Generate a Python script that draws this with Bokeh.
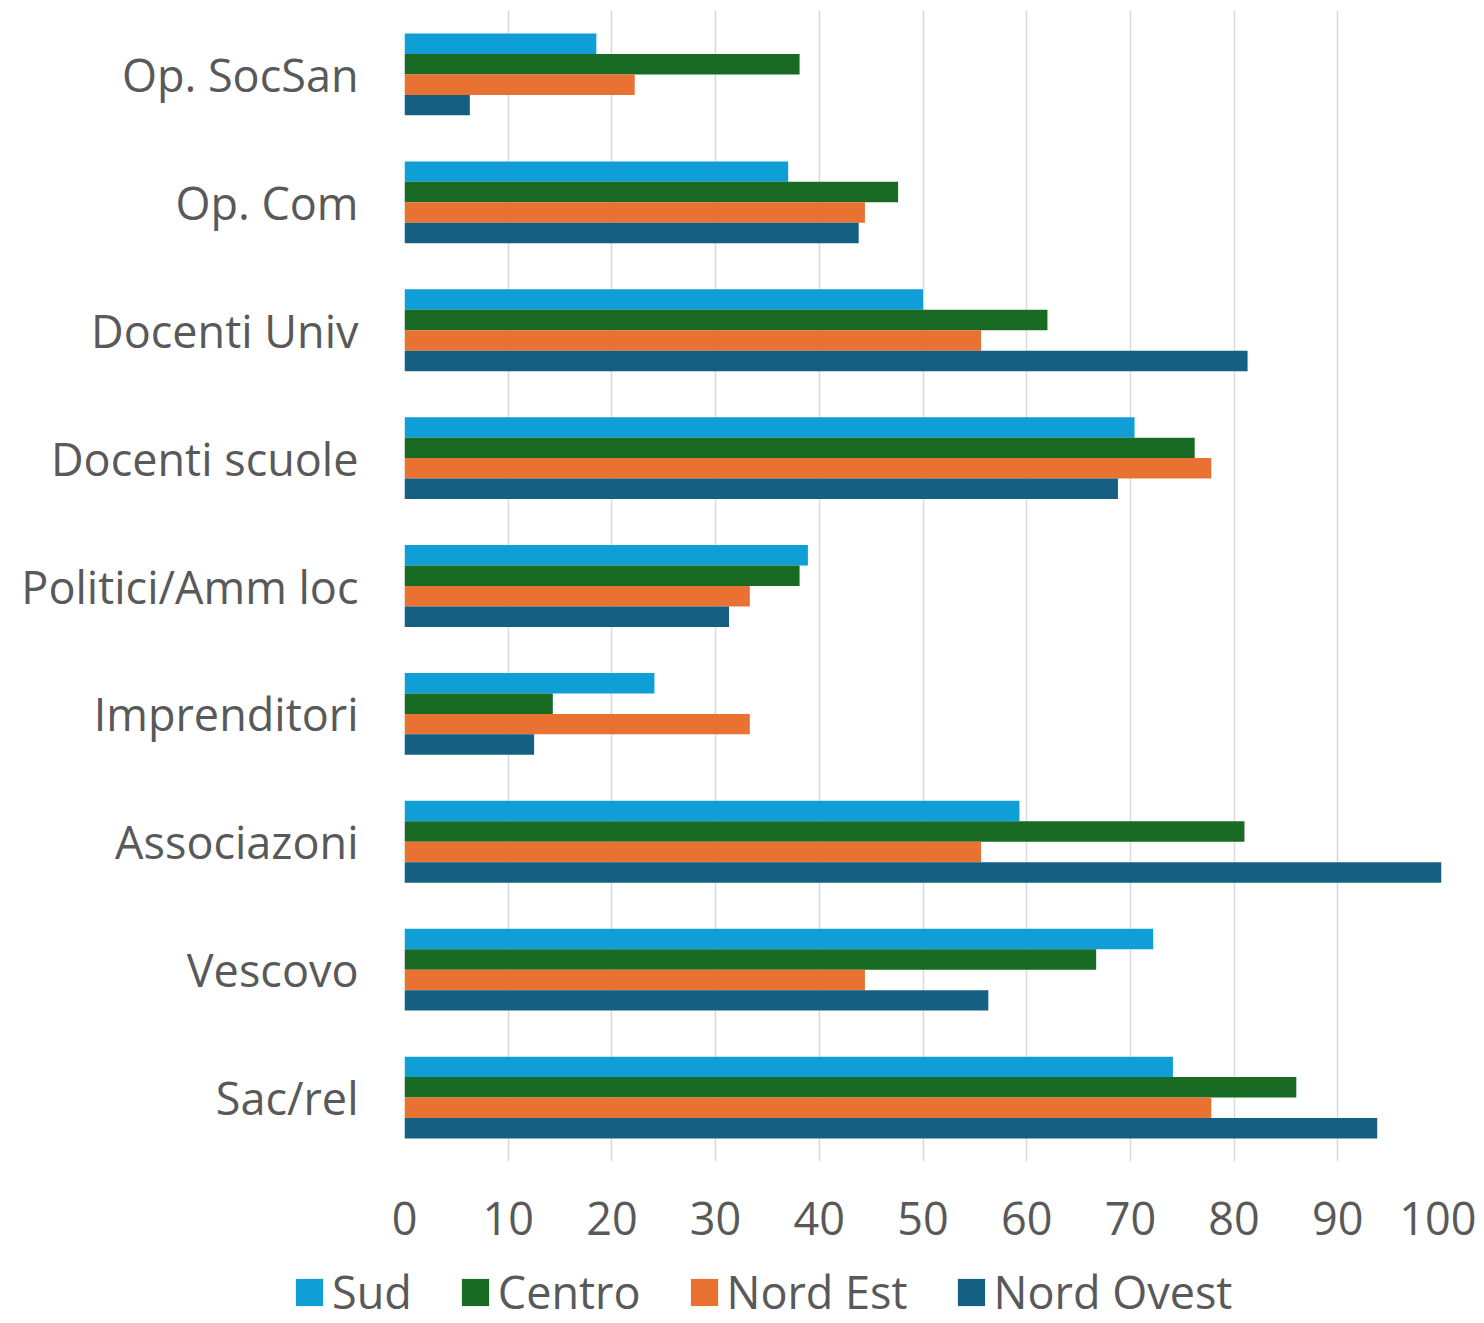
from bokeh.plotting import figure
from bokeh.layouts import column
from bokeh.models import ColumnDataSource, FactorRange, Range1d, Legend, LegendItem, FixedTicker
from bokeh.transform import dodge
from bokeh.embed import file_html
from bokeh.resources import INLINE

categories = ["Op. SocSan", "Op. Com", "Docenti Univ", "Docenti scuole", "Politici/Amm loc",
              "Imprenditori", "Associazoni", "Vescovo", "Sac/rel"]
series_names = ["Sud", "Centro", "Nord Est", "Nord Ovest"]
sud = [18.5, 37.0, 50.0, 70.4, 38.9, 24.1, 59.3, 72.2, 74.1]
centro = [38.1, 47.6, 62.0, 76.2, 38.1, 14.3, 81.0, 66.7, 86.0]
nord_est = [22.2, 44.4, 55.6, 77.8, 33.3, 33.3, 55.6, 44.4, 77.8]
nord_ovest = [6.3, 43.8, 81.3, 68.8, 31.3, 12.5, 100.0, 56.3, 93.8]
x_ticks = [0, 10, 20, 30, 40, 50, 60, 70, 80, 90, 100]

colors = ["#0F9ED5", "#196B24", "#E97132", "#156082"]
offsets = [0.24, 0.08, -0.08, -0.24]
FONT = "Open Sans"
FS = "45px"
TXT = "#595959"

src = ColumnDataSource(dict(cat=categories, Sud=sud, Centro=centro,
                            NordEst=nord_est, NordOvest=nord_ovest))
cols = ["Sud", "Centro", "NordEst", "NordOvest"]

p = figure(width=1476, height=1262, output_backend="svg", toolbar_location=None,
           y_range=FactorRange(factors=list(reversed(categories)), range_padding=0),
           x_range=Range1d(0, 100))
p.min_border_left = 404
p.min_border_right = 35
p.min_border_top = 10
p.min_border_bottom = 101
p.outline_line_color = None
p.background_fill_color = "white"
p.border_fill_color = "white"

for col, c, off in zip(cols, colors, offsets):
    p.hbar(y=dodge("cat", off, range=p.y_range), right=col, left=0, height=0.16,
           source=src, fill_color=c, line_color=None)

p.xaxis.ticker = FixedTicker(ticks=x_ticks)
p.xaxis.axis_line_color = None
p.xaxis.major_tick_line_color = None
p.xaxis.minor_tick_line_color = None
p.xaxis.major_tick_out = 0
p.xaxis.major_label_standoff = 40
p.xaxis.major_label_text_font = FONT
p.xaxis.major_label_text_font_size = FS
p.xaxis.major_label_text_color = TXT

p.yaxis.axis_line_color = None
p.yaxis.major_tick_line_color = None
p.yaxis.major_tick_out = 0
p.yaxis.major_label_standoff = 46
p.yaxis.major_label_text_font = FONT
p.yaxis.major_label_text_font_size = FS
p.yaxis.major_label_text_color = TXT

p.ygrid.grid_line_color = None
p.xgrid.grid_line_color = "#D9D9D9"
p.xgrid.grid_line_width = 1.5

# legend in its own strip below the chart (proxy bars drawn out of view)
q = figure(width=1476, height=60, output_backend="svg", toolbar_location=None,
           x_range=Range1d(-2, -1), y_range=Range1d(-2, -1),
           x_axis_location=None, y_axis_location=None)
q.frame_align = False
q.min_border = 0
q.outline_line_color = None
q.grid.visible = False
q.background_fill_color = "white"
q.border_fill_color = "white"
leg_renderers = []
for col, c in zip(cols, colors):
    leg_renderers.append(q.hbar(y=col, right=col, left=0, height=1, source=src,
                                fill_color=c, line_color=None))
items = [LegendItem(label=n, renderers=[r]) for n, r in zip(series_names, leg_renderers)]
legend = Legend(items=items, orientation="horizontal", location=(292, 0),
                glyph_width=34, glyph_height=34, label_standoff=6, spacing=46,
                padding=0, margin=0, border_line_color=None, background_fill_alpha=0,
                label_text_font=FONT, label_text_font_size=FS, label_text_color=TXT)
q.add_layout(legend, "center")

layout = column(p, q, spacing=0)
open("out.html", "w").write(file_html(layout, INLINE))
